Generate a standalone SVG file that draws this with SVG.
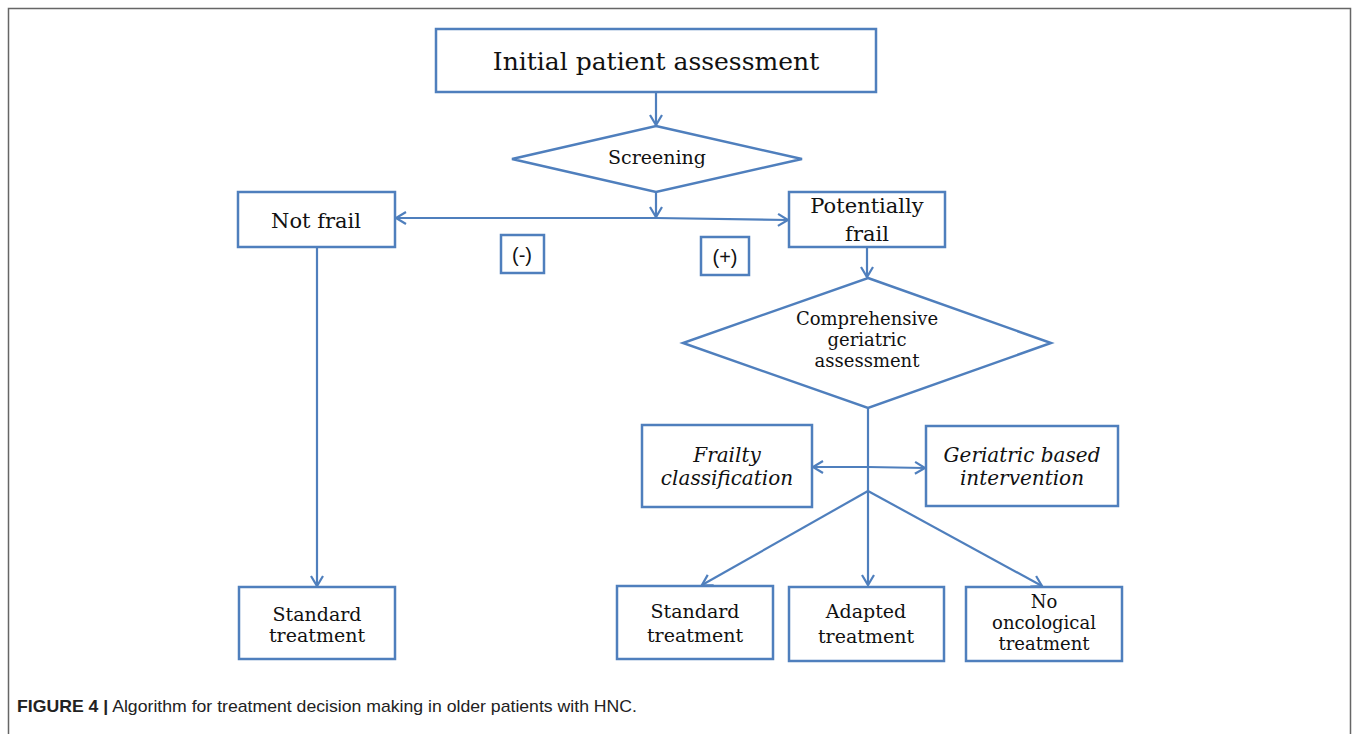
<svg xmlns="http://www.w3.org/2000/svg" width="1358" height="734" viewBox="0 0 1358 734">
<defs>
<marker id="arr" markerUnits="userSpaceOnUse" markerWidth="16" markerHeight="16" viewBox="-12 -8 14 16" refX="0" refY="0" orient="auto">
<path d="M-10,-6 L0,0 L-10,6" fill="none" stroke="#4f7fbd" stroke-width="2.2"/>
</marker>
</defs>
<style>
.box{fill:#fff;stroke:#4f7fbd;stroke-width:2.5}
.ln{fill:none;stroke:#4f7fbd;stroke-width:2.2}
.t{font-family:"DejaVu Serif","Liberation Serif",serif;fill:#111;text-anchor:middle}
.it{font-style:italic}
.s{font-family:"Liberation Sans",Arial,sans-serif;fill:#111;text-anchor:middle}
.cap{font-family:"Liberation Sans",Arial,sans-serif;font-size:17px;fill:#222}
</style>
<rect width="1358" height="734" fill="#fff"/>
<path d="M8.5,734 V8.5 H1350.5 V734" fill="none" stroke="#666" stroke-width="1.5"/>

<g id="connectors">
<line class="ln" x1="656" y1="92" x2="656" y2="125" marker-end="url(#arr)"/>
<line class="ln" x1="656" y1="192" x2="656" y2="217" marker-end="url(#arr)"/>
<line class="ln" x1="656" y1="218" x2="396" y2="218" marker-end="url(#arr)"/>
<line class="ln" x1="656" y1="218" x2="788" y2="220" marker-end="url(#arr)"/>
<line class="ln" x1="317" y1="247" x2="317" y2="586" marker-end="url(#arr)"/>
<line class="ln" x1="867" y1="247" x2="867" y2="277" marker-end="url(#arr)"/>
<line class="ln" x1="868" y1="408" x2="868" y2="585" marker-end="url(#arr)"/>
<line class="ln" x1="868" y1="467" x2="813" y2="467" marker-end="url(#arr)"/>
<line class="ln" x1="868" y1="467" x2="925" y2="468" marker-end="url(#arr)"/>
<line class="ln" x1="868" y1="491" x2="702" y2="585" marker-end="url(#arr)"/>
<line class="ln" x1="868" y1="491" x2="1042" y2="586" marker-end="url(#arr)"/>
</g>

<g id="initial">
<rect class="box" x="436" y="29" width="440" height="63"/>
<text class="t" x="656" y="70" font-size="25">Initial patient assessment</text>
</g>
<g id="screening">
<polygon class="box" points="656,126 802,159 656,192 512,159"/>
<text class="t" x="657" y="164" font-size="19">Screening</text>
</g>
<g id="notfrail">
<rect class="box" x="238" y="192" width="157" height="55"/>
<text class="t" x="316" y="228" font-size="21">Not frail</text>
</g>
<g id="minus">
<rect class="box" x="501" y="235" width="43" height="38"/>
<text class="s" x="522" y="262" font-size="20">(-)</text>
</g>
<g id="plus">
<rect class="box" x="701" y="237" width="48" height="38"/>
<text class="s" x="725" y="264" font-size="20">(+)</text>
</g>
<g id="potfrail">
<rect class="box" x="789" y="192" width="156" height="55"/>
<text class="t" x="867" y="213" font-size="21">Potentially</text>
<text class="t" x="867" y="241" font-size="21">frail</text>
</g>
<g id="cga">
<polygon class="box" points="868,278 1051,343 868,408 683,343"/>
<text class="t" x="867" y="325" font-size="18">Comprehensive</text>
<text class="t" x="867" y="346" font-size="18">geriatric</text>
<text class="t" x="867" y="367" font-size="18">assessment</text>
</g>
<g id="frailty">
<rect class="box" x="642" y="425" width="170" height="82"/>
<text class="t it" x="727" y="462" font-size="20">Frailty</text>
<text class="t it" x="727" y="485" font-size="20">classification</text>
</g>
<g id="gbi">
<rect class="box" x="926" y="426" width="192" height="80"/>
<text class="t it" x="1022" y="462" font-size="20">Geriatric based</text>
<text class="t it" x="1022" y="485" font-size="20">intervention</text>
</g>
<g id="std-left">
<rect class="box" x="239" y="587" width="156" height="72"/>
<text class="t" x="317" y="621" font-size="19">Standard</text>
<text class="t" x="317" y="642" font-size="19">treatment</text>
</g>
<g id="std-right">
<rect class="box" x="617" y="586" width="156" height="73"/>
<text class="t" x="695" y="618" font-size="19">Standard</text>
<text class="t" x="695" y="642" font-size="19">treatment</text>
</g>
<g id="adapted">
<rect class="box" x="789" y="587" width="155" height="74"/>
<text class="t" x="866" y="618" font-size="19">Adapted</text>
<text class="t" x="866" y="643" font-size="19">treatment</text>
</g>
<g id="noonc">
<rect class="box" x="966" y="587" width="156" height="74"/>
<text class="t" x="1044" y="608" font-size="18">No</text>
<text class="t" x="1044" y="629" font-size="18">oncological</text>
<text class="t" x="1044" y="650" font-size="18">treatment</text>
</g>
<text class="cap" x="17" y="712" textLength="620" lengthAdjust="spacingAndGlyphs"><tspan font-weight="bold">FIGURE 4 |</tspan> Algorithm for treatment decision making in older patients with HNC.</text>
</svg>
